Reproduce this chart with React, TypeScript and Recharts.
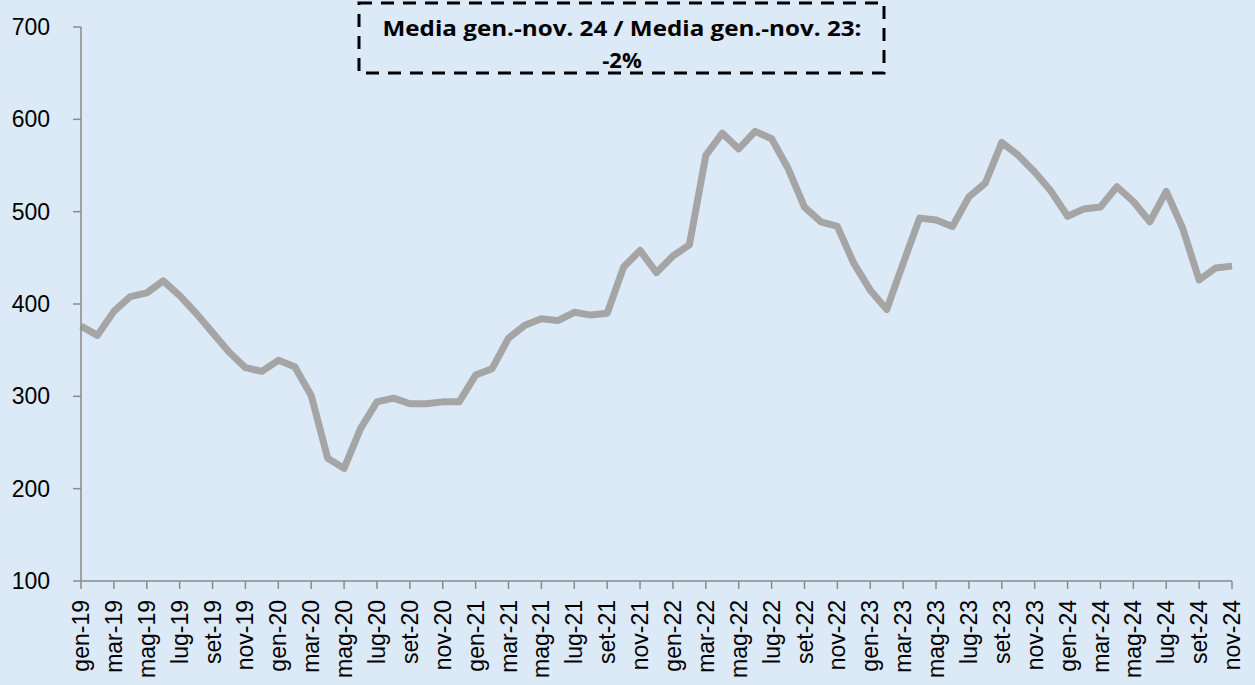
import React from 'react';
import { LineChart, Line, XAxis, YAxis } from 'recharts';

const categories = [
  'gen-19','feb-19','mar-19','apr-19','mag-19','giu-19','lug-19','ago-19','set-19','ott-19','nov-19','dic-19',
  'gen-20','feb-20','mar-20','apr-20','mag-20','giu-20','lug-20','ago-20','set-20','ott-20','nov-20','dic-20',
  'gen-21','feb-21','mar-21','apr-21','mag-21','giu-21','lug-21','ago-21','set-21','ott-21','nov-21','dic-21',
  'gen-22','feb-22','mar-22','apr-22','mag-22','giu-22','lug-22','ago-22','set-22','ott-22','nov-22','dic-22',
  'gen-23','feb-23','mar-23','apr-23','mag-23','giu-23','lug-23','ago-23','set-23','ott-23','nov-23','dic-23',
  'gen-24','feb-24','mar-24','apr-24','mag-24','giu-24','lug-24','ago-24','set-24','ott-24','nov-24',
];

const values = [
  376, 366, 392, 408, 412, 425, 409, 390, 369, 348, 331, 327,
  339, 332, 301, 233, 222, 265, 294, 298, 292, 292, 294, 294,
  323, 330, 363, 377, 384, 382, 391, 388, 390, 440, 458, 434,
  452, 464, 561, 585, 568, 587, 579, 547, 505, 489, 484, 444,
  415, 394, 444, 493, 491, 484, 516, 531, 575, 561, 543, 522,
  495, 503, 505, 527, 511, 489, 522, 482, 426, 439, 441,
];

const yTicks = [100, 200, 300, 400, 500, 600, 700];
const noteLine1 = 'Media gen.-nov. 24 / Media gen.-nov. 23:';
const noteLine2 = '-2%';

const data = categories.map((c, i) => ({ month: c, value: values[i] }));

const FONT = '"Liberation Sans", Arial, sans-serif';
const AXIS = '#8a8a8a';

const XTick = (props: any) => {
  const { x, y, payload } = props;
  return (
    <g transform={`translate(${x},${y})`}>
      <text
        transform="rotate(-90)"
        x={-9}
        y={0}
        dy="0.35em"
        textAnchor="end"
        fontSize={23}
        fontFamily={FONT}
        fill="#000"
      >
        {payload.value}
      </text>
    </g>
  );
};

export default function App() {
  return (
    <div
      style={{
        position: 'fixed',
        left: 0,
        top: 0,
        width: 1255,
        height: 685,
        background: '#dce9f6',
        overflow: 'hidden',
      }}
    >
      <LineChart
        width={1255}
        height={685}
        data={data}
        margin={{ top: 27, right: 23, bottom: 0, left: 0 }}
      >
        <XAxis
          dataKey="month"
          interval={1}
          tickSize={8}
          height={104}
          axisLine={{ stroke: AXIS, strokeWidth: 1.5 }}
          tickLine={{ stroke: AXIS, strokeWidth: 1.5 }}
          tick={<XTick />}
        />
        <YAxis
          domain={[100, 700]}
          ticks={yTicks}
          width={81}
          tickSize={8}
          tickMargin={23}
          axisLine={{ stroke: AXIS, strokeWidth: 1.5 }}
          tickLine={{ stroke: AXIS, strokeWidth: 1.5 }}
          tick={{ fontSize: 23, fontFamily: FONT, fill: '#000' }}
        />
        <Line
          type="linear"
          dataKey="value"
          stroke="#a5a5a5"
          strokeWidth={7}
          strokeLinejoin="round"
          dot={false}
          activeDot={false}
          isAnimationActive={false}
        />
      </LineChart>
      <svg
        width={1255}
        height={685}
        style={{ position: 'absolute', left: 0, top: 0, pointerEvents: 'none' }}
      >
        <rect
          x={359}
          y={3}
          width={525}
          height={70}
          fill="none"
          stroke="#000"
          strokeWidth={3}
          strokeDasharray="13 9"
        />
        <text
          x={622}
          y={28}
          dy="0.35em"
          textAnchor="middle"
          fontSize={22}
          fontWeight={700}
          fontFamily='"Open Sans", "Liberation Sans", sans-serif'
          textLength={479}
          lengthAdjust="spacingAndGlyphs"
          fill="#000"
        >
          {noteLine1}
        </text>
        <text
          x={622}
          y={60}
          dy="0.35em"
          textAnchor="middle"
          fontSize={22}
          fontWeight={700}
          fontFamily='"Open Sans", "Liberation Sans", sans-serif'
          fill="#000"
        >
          {noteLine2}
        </text>
      </svg>
    </div>
  );
}
